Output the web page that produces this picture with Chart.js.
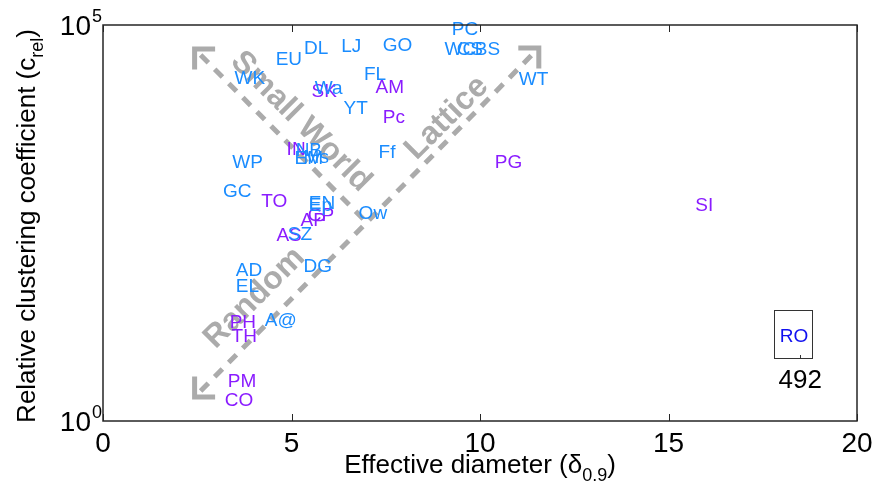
<!DOCTYPE html>
<html><head><meta charset="utf-8">
<script src="https://cdn.jsdelivr.net/npm/chart.js@4.4.0/dist/chart.umd.min.js"></script>
<style>html,body{margin:0;padding:0;background:#fff;}#wrap{width:874px;height:487px;}</style>
</head><body><div id="wrap"><canvas id="c" width="874" height="487"></canvas></div>
<script>
// ---- data ----
const blueLabels = ['PC','WC','CS','BS','WT','GO','LJ','DL','EU','WK','Wa','FL','YT','WP','GC','Ff','Ow','NB','EM','Ms','EN','Ep','SZ','AD','EL','DG','A@'];
const blueX = [9.25,9.06,9.38,9.86,11.03,7.42,6.32,5.33,4.58,3.49,5.62,6.92,6.38,3.43,3.18,7.31,6.78,5.11,5.08,5.32,5.46,5.46,4.90,3.52,3.52,5.32,4.29];
const blueY = [91600,51300,51300,51300,21400,57500,55900,53200,38000,22200,16600,24800,9220,1880,826,2570,439,2720,2150,2220,582,549,234,82.3,51.1,91.4,19.2];
const purpleLabels = ['SK','AM','Pc','PG','SI','TO','IN','AP','CP','AS','PH','TH','PM','CO'];
const purpleX = [5.53,7.23,7.42,10.39,15.71,4.20,4.87,5.24,5.43,4.60,3.36,3.41,3.31,3.23];
const purpleY = [15100,17000,7100,1880,549,617,2800,355,411,230,18.3,12.2,3.29,1.88];
const roLabels = ['RO'];
const roX = [17.95];
const roY = [12.2];
const roTrueDiameter = ['492'];
const xTicks = [0,5,10,15,20];
const yTicks = [1,100000];
const yTickExp = ['0','5'];
const xTitle = ['Effective diameter (\u03b4', '0.9', ')'];
const yTitle = ['Relative clustering coefficient (c', 'rel', ')'];
const regionNames = ['Small World','Random','Lattice'];

const FONT = "'Liberation Sans', Arial, Helvetica, sans-serif";
const BLUE = '#1a8cff', PURPLE = '#8a1cff', RO_BLUE = '#1010f0', GRAY = '#ababab', AX = '#262626';

function mk(labels, xs, ys, color){
  return {labels, color, data: xs.map((x,i)=>({x, y: ys[i]})), pointRadius:0, pointHoverRadius:0, showLine:false};
}

const annotate = {
  id:'annotate',
  beforeDatasetsDraw(chart){
    const ctx = chart.ctx, xs = chart.scales.x, ys = chart.scales.y;
    const P = (x,e)=>[xs.getPixelForValue(x), ys.getPixelForValue(Math.pow(10,e))];
    const TL = P(2.43,4.697), BL = P(2.43,0.303), TR = P(11.56,4.710);
    const M = [(BL[0]+TR[0])/2, (BL[1]+TR[1])/2];
    ctx.save();
    ctx.strokeStyle = GRAY; ctx.lineWidth = 5; ctx.lineCap='butt';
    ctx.setLineDash([11,9]);
    ctx.beginPath(); ctx.moveTo(BL[0]+6,BL[1]-6); ctx.lineTo(TR[0]-6,TR[1]+6); ctx.stroke();
    ctx.beginPath(); ctx.moveTo(TL[0]+6,TL[1]+6); ctx.lineTo(M[0],M[1]); ctx.stroke();
    ctx.setLineDash([]);
    ctx.lineCap='square';
    const arm = 18;
    ctx.beginPath();
    ctx.moveTo(TL[0]+arm,TL[1]); ctx.lineTo(TL[0],TL[1]); ctx.lineTo(TL[0],TL[1]+arm);
    ctx.moveTo(BL[0],BL[1]-arm); ctx.lineTo(BL[0],BL[1]); ctx.lineTo(BL[0]+arm,BL[1]);
    ctx.moveTo(TR[0]-arm,TR[1]); ctx.lineTo(TR[0],TR[1]); ctx.lineTo(TR[0],TR[1]+arm);
    ctx.stroke();
    ctx.fillStyle = GRAY; ctx.font = 'bold 32px '+FONT; ctx.textAlign='center'; ctx.textBaseline='middle';
    const texts = [[regionNames[0],5.25,3.78,45],[regionNames[1],4.02,1.553,-45],[regionNames[2],9.12,3.826,-45]];
    texts.forEach(([t,x,e,r])=>{
      const p = P(x,e); ctx.save(); ctx.translate(p[0],p[1]); ctx.rotate(r*Math.PI/180); ctx.fillText(t,0,0); ctx.restore();
    });
    ctx.restore();
  },
  afterDatasetsDraw(chart){
    const ctx = chart.ctx;
    ctx.save();
    ctx.font = '19px '+FONT; ctx.textAlign='left'; ctx.textBaseline='alphabetic';
    chart.data.datasets.forEach((ds,i)=>{
      const meta = chart.getDatasetMeta(i);
      ctx.fillStyle = ds.color;
      meta.data.forEach((el,j)=>{ ctx.fillText(ds.labels[j], el.x, el.y + 0.358*19); });
    });
    ctx.restore();
  },
  afterDraw(chart){
    const ctx = chart.ctx, a = chart.chartArea, xs = chart.scales.x, ys = chart.scales.y;
    ctx.save();
    ctx.strokeStyle = AX; ctx.lineWidth = 1.5;
    ctx.strokeRect(a.left, a.top, a.right-a.left, a.bottom-a.top);
    ctx.lineWidth = 1;
    xTicks.forEach(v=>{
      const px = Math.round(xs.getPixelForValue(v))+0.5;
      ctx.beginPath(); ctx.moveTo(px,a.bottom); ctx.lineTo(px,a.bottom-7); ctx.moveTo(px,a.top); ctx.lineTo(px,a.top+7); ctx.stroke();
    });
    ctx.fillStyle = '#000';
    ctx.font = '28px '+FONT; ctx.textAlign='center'; ctx.textBaseline='alphabetic';
    xTicks.forEach(v=>{ ctx.fillText(String(v), xs.getPixelForValue(v), a.bottom+31); });
    yTicks.forEach((v,i)=>{
      const py = ys.getPixelForValue(v);
      ctx.font = '28px '+FONT; ctx.textAlign='right';
      ctx.fillText('10', a.left-12, py+10);
      ctx.font = '18px '+FONT; ctx.textAlign='left';
      ctx.fillText(yTickExp[i], a.left-11, py-3);
    });
    ctx.font = '26px '+FONT;
    const w0 = ctx.measureText(xTitle[0]).width; ctx.font='18px '+FONT;
    const w1 = ctx.measureText(xTitle[1]).width; ctx.font='26px '+FONT;
    const w2 = ctx.measureText(xTitle[2]).width;
    let sx = (a.left+a.right)/2 - (w0+w1+w2)/2, by = 473;
    ctx.textAlign='left';
    ctx.fillText(xTitle[0], sx, by);
    ctx.font='18px '+FONT; ctx.fillText(xTitle[1], sx+w0, by+8);
    ctx.font='26px '+FONT; ctx.fillText(xTitle[2], sx+w0+w1, by);
    ctx.save();
    ctx.translate(35,(a.top+a.bottom)/2+3); ctx.rotate(-Math.PI/2);
    ctx.font='26px '+FONT;
    const v0 = ctx.measureText(yTitle[0]).width; ctx.font='18px '+FONT;
    const v1 = ctx.measureText(yTitle[1]).width; ctx.font='26px '+FONT;
    const v2 = ctx.measureText(yTitle[2]).width;
    let sy = -(v0+v1+v2)/2;
    ctx.fillText(yTitle[0], sy, 0);
    ctx.font='18px '+FONT; ctx.fillText(yTitle[1], sy+v0, 8);
    ctx.font='26px '+FONT; ctx.fillText(yTitle[2], sy+v0+v1, 0);
    ctx.restore();
    const bx0 = xs.getPixelForValue(17.8), bx1 = xs.getPixelForValue(18.8);
    const by0 = ys.getPixelForValue(25.1), by1 = ys.getPixelForValue(6.25);
    ctx.strokeStyle = '#333'; ctx.lineWidth = 1;
    ctx.strokeRect(Math.round(bx0)+0.5, Math.round(by0)+0.5, Math.round(bx1-bx0), Math.round(by1-by0));
    const tx = Math.round(xs.getPixelForValue(18.5))+0.5;
    ctx.beginPath(); ctx.moveTo(tx, Math.round(by1)); ctx.lineTo(tx, Math.round(by1)-3); ctx.stroke();
    ctx.fillStyle='#000'; ctx.font='26px '+FONT; ctx.textAlign='left';
    ctx.fillText(roTrueDiameter[0], xs.getPixelForValue(17.92), ys.getPixelForValue(3.37)+9);
    ctx.restore();
  }
};

new Chart(document.getElementById('c'), {
  type:'scatter',
  data:{datasets:[
    mk(purpleLabels, purpleX, purpleY, PURPLE),
    mk(blueLabels, blueX, blueY, BLUE),
    mk(roLabels, roX, roY, RO_BLUE)
  ]},
  options:{
    responsive:false, animation:false, devicePixelRatio:1,
    layout:{padding:{left:103,right:17,top:25,bottom:66}, autoPadding:false},
    plugins:{legend:{display:false}, tooltip:{enabled:false}},
    events:[],
    scales:{
      x:{type:'linear', min:0, max:20, display:false},
      y:{type:'logarithmic', min:1, max:100000, display:false}
    }
  },
  plugins:[annotate]
});
</script></body></html>
